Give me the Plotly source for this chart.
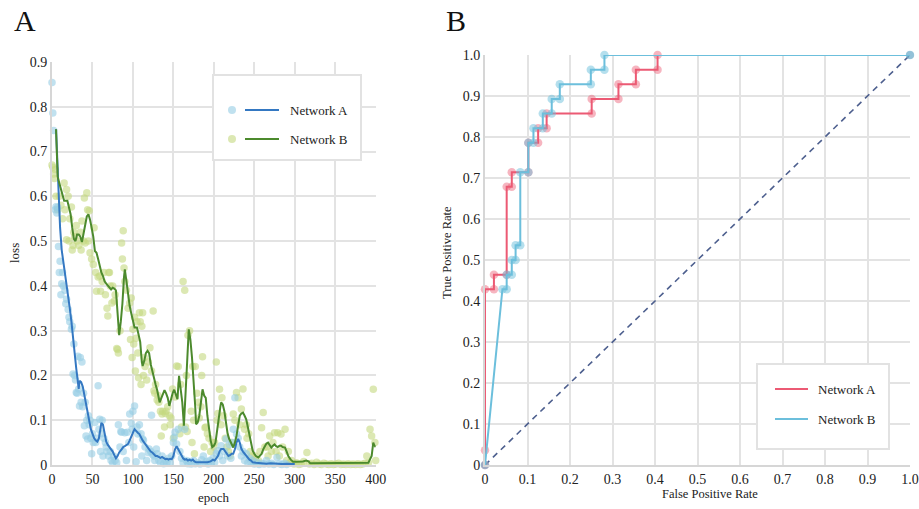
import plotly.graph_objects as go

# ---------------- Panel A data: training loss ----------------
net_a_points = [
    (0, 0.854), (1, 0.786), (2, 0.747), (4, 0.57), (5, 0.577), (6, 0.563), (7, 0.575), (8, 0.488),
    (9, 0.43), (10, 0.455), (11, 0.38), (12, 0.405), (13, 0.43), (14, 0.40), (16, 0.39), (17, 0.36),
    (18, 0.37), (20, 0.347), (21, 0.33), (22, 0.32), (24, 0.303), (25, 0.31), (26, 0.203), (27, 0.27),
    (28, 0.20), (29, 0.19), (30, 0.162), (31, 0.16), (32, 0.243), (33, 0.17), (34, 0.132), (35, 0.24),
    (36, 0.14), (37, 0.23), (38, 0.13), (39, 0.16), (40, 0.0875), (41, 0.14), (42, 0.065), (43, 0.10),
    (44, 0.058), (45, 0.11), (46, 0.09), (47, 0.10), (48, 0.06), (49, 0.025), (50, 0.07), (51, 0.05),
    (53, 0.095), (54, 0.05), (55, 0.06), (57, 0.177), (58, 0.08), (59, 0.102), (60, 0.03), (61, 0.07),
    (62, 0.10), (63, 0.02), (64, 0.06), (66, 0.05), (67, 0.04), (68, 0.03), (70, 0.02), (72, 0.03),
    (73, 0.01), (75, 0.005), (76, 0.02), (78, 0.01), (80, 0.005), (82, 0.09), (84, 0.04), (85, 0.075),
    (86, 0.073), (88, 0.03), (90, 0.072), (92, 0.01), (93, 0.073), (95, 0.05), (96, 0.114), (98, 0.093),
    (99, 0.08), (100, 0.12), (101, 0.04), (102, 0.132), (104, 0.007), (105, 0.085), (106, 0.069),
    (108, 0.09), (110, 0.07), (111, 0.02), (112, 0.058), (113, 0.055), (115, 0.04), (117, 0.01),
    (119, 0.028), (120, 0.036), (122, 0.03), (123, 0.111), (124, 0.024), (126, 0.02), (127, 0.01),
    (129, 0.036), (130, 0.025), (132, 0.01), (134, 0.005), (136, 0.02), (138, 0.003), (140, 0.01),
    (142, 0.005), (144, 0.015), (146, 0.005), (148, 0.02), (150, 0.05), (151, 0.062), (152, 0.073),
    (154, 0.047), (156, 0.08), (158, 0.03), (160, 0.015), (162, 0.005), (164, 0.08), (166, 0.01),
    (168, 0.003), (170, 0.008), (172, 0.002), (175, 0.01), (177, 0.003), (180, 0.005), (183, 0.002),
    (185, 0.012), (187, 0.02), (189, 0.004), (191, 0.008), (193, 0.002), (195, 0.01), (197, 0.004),
    (199, 0.015), (201, 0.006), (203, 0.025), (205, 0.032), (207, 0.02), (209, 0.043), (211, 0.01),
    (213, 0.03), (215, 0.058), (217, 0.02), (219, 0.045), (221, 0.015), (223, 0.05), (224, 0.08),
    (226, 0.15), (228, 0.069), (230, 0.06), (232, 0.04), (234, 0.02), (236, 0.03), (238, 0.01),
    (240, 0.025), (242, 0.005), (244, 0.015), (246, 0.004), (248, 0.01), (250, 0.002), (253, 0.006),
    (256, 0.001), (259, 0.004), (262, 0.002), (265, 0.01), (268, 0.002), (271, 0.004), (274, 0.001),
    (278, 0.017), (281, 0.003), (284, 0.001), (287, 0.004), (290, 0.001),
]

net_b_points = [
    (0, 0.67), (1, 0.665), (2, 0.65), (3, 0.64), (4, 0.66), (5, 0.60), (7, 0.57), (9, 0.60),
    (11, 0.58), (13, 0.55), (15, 0.63), (16, 0.57), (18, 0.615), (18, 0.503), (20, 0.60), (21, 0.50),
    (22, 0.55), (24, 0.576), (25, 0.48), (26, 0.49), (27, 0.52), (28, 0.51), (30, 0.535), (31, 0.50),
    (33, 0.49), (35, 0.52), (36, 0.48), (37, 0.545), (39, 0.50), (40, 0.596), (41, 0.496), (43, 0.608),
    (44, 0.57), (45, 0.50), (46, 0.568), (47, 0.474), (49, 0.46), (51, 0.448), (52, 0.53), (54, 0.43),
    (55, 0.388), (57, 0.42), (59, 0.422), (60, 0.388), (62, 0.41), (64, 0.43), (66, 0.38), (68, 0.35),
    (69, 0.333), (70, 0.43), (71, 0.43), (72, 0.40), (74, 0.362), (75, 0.40), (77, 0.366), (78, 0.38),
    (80, 0.26), (81, 0.258), (82, 0.25), (84, 0.30), (86, 0.496), (87, 0.46), (88, 0.523), (89, 0.44),
    (90, 0.41), (92, 0.39), (94, 0.35), (96, 0.362), (97, 0.28), (98, 0.373), (99, 0.24), (100, 0.303),
    (101, 0.27), (102, 0.33), (103, 0.21), (104, 0.283), (105, 0.32), (106, 0.25), (107, 0.195),
    (108, 0.34), (109, 0.32), (110, 0.18), (111, 0.31), (112, 0.34), (113, 0.20), (114, 0.24),
    (115, 0.22), (117, 0.19), (119, 0.23), (121, 0.262), (123, 0.21), (125, 0.344), (126, 0.166),
    (127, 0.16), (128, 0.18), (130, 0.145), (131, 0.155), (132, 0.14), (134, 0.12), (135, 0.065),
    (136, 0.114), (137, 0.12), (139, 0.085), (140, 0.115), (141, 0.12), (143, 0.13), (145, 0.11),
    (146, 0.09), (147, 0.105), (149, 0.17), (150, 0.06), (152, 0.152), (154, 0.221), (156, 0.22),
    (158, 0.07), (159, 0.18), (160, 0.085), (162, 0.41), (164, 0.39), (165, 0.085), (166, 0.20),
    (167, 0.075), (168, 0.29), (170, 0.30), (172, 0.12), (173, 0.05), (174, 0.22), (175, 0.10),
    (176, 0.025), (177, 0.22), (179, 0.16), (181, 0.14), (182, 0.105), (184, 0.13), (185, 0.20),
    (186, 0.242), (188, 0.04), (189, 0.083), (190, 0.085), (192, 0.07), (194, 0.06), (196, 0.03),
    (198, 0.05), (200, 0.04), (201, 0.05), (203, 0.23), (204, 0.10), (205, 0.115), (207, 0.169),
    (209, 0.09), (210, 0.15), (212, 0.11), (214, 0.06), (216, 0.04), (218, 0.03), (220, 0.02),
    (222, 0.05), (224, 0.114), (226, 0.10), (228, 0.162), (230, 0.15), (232, 0.09), (234, 0.125),
    (236, 0.17), (238, 0.08), (240, 0.09), (241, 0.06), (243, 0.07), (245, 0.03), (247, 0.02),
    (249, 0.01), (251, 0.02), (253, 0.005), (255, 0.01), (257, 0.03), (259, 0.083), (261, 0.117),
    (263, 0.04), (265, 0.04), (267, 0.02), (269, 0.065), (271, 0.03), (273, 0.05), (275, 0.072),
    (277, 0.03), (279, 0.072), (281, 0.02), (283, 0.069), (285, 0.04), (288, 0.08), (290, 0.01),
    (292, 0.03), (294, 0.005), (296, 0.01), (299, 0.002), (302, 0.005), (305, 0.001), (308, 0.003),
    (311, 0.008), (315, 0.028), (318, 0.002), (321, 0.004), (324, 0.001), (327, 0.006), (330, 0.002),
    (333, 0.001), (336, 0.004), (339, 0.002), (342, 0.001), (345, 0.003), (348, 0.001), (351, 0.002),
    (354, 0.004), (357, 0.001), (360, 0.002), (363, 0.001), (366, 0.003), (369, 0.001), (372, 0.002),
    (375, 0.001), (378, 0.003), (381, 0.001), (384, 0.002), (387, 0.004), (389, 0.02), (391, 0.005),
    (393, 0.08), (395, 0.065), (397, 0.169), (399, 0.05), (400, 0.01),
]

net_a_curve = [
    (5, 0.75), (6, 0.70), (7, 0.64), (8, 0.60), (10, 0.53), (12, 0.48), (14, 0.455), (16, 0.43),
    (18, 0.41), (20, 0.38), (22, 0.35), (24, 0.32), (26, 0.29), (28, 0.25), (30, 0.215), (32, 0.184),
    (33, 0.17), (34, 0.188), (36, 0.185), (38, 0.175), (40, 0.155), (42, 0.132), (44, 0.115),
    (46, 0.095), (48, 0.08), (50, 0.07), (52, 0.06), (54, 0.055), (56, 0.052), (58, 0.06), (60, 0.085),
    (61, 0.094), (63, 0.09), (65, 0.07), (67, 0.052), (69, 0.045), (71, 0.04), (73, 0.035), (75, 0.03),
    (77, 0.022), (79, 0.015), (81, 0.02), (83, 0.028), (86, 0.035), (88, 0.04), (90, 0.042),
    (92, 0.045), (94, 0.047), (96, 0.055), (98, 0.065), (100, 0.072), (102, 0.08), (104, 0.075),
    (106, 0.072), (108, 0.069), (110, 0.06), (112, 0.055), (114, 0.05), (116, 0.045), (118, 0.04),
    (120, 0.035), (122, 0.03), (124, 0.028), (126, 0.024), (128, 0.02), (130, 0.02), (132, 0.017),
    (134, 0.016), (136, 0.018), (138, 0.015), (140, 0.013), (142, 0.014), (144, 0.012), (146, 0.014),
    (148, 0.013), (150, 0.02), (152, 0.035), (154, 0.042), (156, 0.035), (158, 0.028), (160, 0.02),
    (162, 0.015), (164, 0.012), (166, 0.013), (168, 0.01), (170, 0.012), (172, 0.01), (174, 0.012),
    (176, 0.008), (178, 0.006), (180, 0.006), (184, 0.006), (188, 0.005), (192, 0.006), (196, 0.008),
    (199, 0.012), (201, 0.01), (203, 0.015), (205, 0.02), (207, 0.03), (209, 0.036), (212, 0.036),
    (214, 0.03), (216, 0.025), (218, 0.02), (220, 0.022), (222, 0.025), (224, 0.025), (226, 0.035),
    (228, 0.05), (230, 0.058), (232, 0.05), (234, 0.036), (236, 0.03), (238, 0.025), (240, 0.022),
    (242, 0.017), (244, 0.012), (246, 0.01), (248, 0.006), (252, 0.005), (256, 0.004), (260, 0.004),
    (265, 0.003), (270, 0.004), (275, 0.003), (280, 0.003), (285, 0.002), (290, 0.003), (295, 0.002),
    (300, 0.002),
]

net_b_curve = [
    (5, 0.75), (6, 0.70), (7, 0.644), (9, 0.63), (11, 0.615), (13, 0.605), (15, 0.59), (17, 0.59),
    (19, 0.59), (21, 0.575), (23, 0.56), (25, 0.53), (27, 0.505), (29, 0.50), (31, 0.515), (33, 0.515),
    (35, 0.51), (37, 0.498), (39, 0.52), (41, 0.54), (43, 0.555), (45, 0.56), (47, 0.548), (49, 0.53),
    (51, 0.51), (53, 0.478), (55, 0.474), (57, 0.46), (59, 0.444), (61, 0.43), (63, 0.422), (65, 0.41),
    (67, 0.405), (69, 0.40), (71, 0.395), (73, 0.392), (75, 0.396), (77, 0.394), (79, 0.39),
    (81, 0.345), (83, 0.29), (85, 0.32), (87, 0.36), (89, 0.42), (90, 0.437), (92, 0.41), (94, 0.38),
    (96, 0.355), (98, 0.338), (100, 0.32), (102, 0.307), (105, 0.307), (107, 0.29), (109, 0.275),
    (111, 0.23), (112, 0.221), (114, 0.232), (116, 0.25), (118, 0.255), (120, 0.25), (122, 0.225),
    (124, 0.206), (126, 0.195), (128, 0.18), (130, 0.167), (133, 0.14), (135, 0.148), (137, 0.156),
    (139, 0.167), (141, 0.16), (143, 0.15), (145, 0.132), (147, 0.148), (149, 0.16), (151, 0.168),
    (153, 0.155), (155, 0.147), (157, 0.199), (159, 0.175), (161, 0.14), (163, 0.088), (165, 0.15),
    (167, 0.23), (169, 0.303), (171, 0.28), (173, 0.24), (175, 0.19), (177, 0.13), (178, 0.091),
    (180, 0.095), (182, 0.11), (184, 0.14), (186, 0.169), (188, 0.155), (190, 0.15), (192, 0.11),
    (194, 0.08), (196, 0.055), (198, 0.04), (200, 0.043), (202, 0.05), (204, 0.08), (206, 0.105),
    (208, 0.13), (209, 0.14), (211, 0.135), (213, 0.12), (215, 0.088), (217, 0.07), (219, 0.058),
    (221, 0.05), (223, 0.042), (224, 0.039), (226, 0.05), (228, 0.065), (230, 0.088), (232, 0.11),
    (234, 0.115), (236, 0.117), (238, 0.11), (240, 0.102), (242, 0.085), (244, 0.065), (246, 0.05),
    (248, 0.032), (250, 0.025), (252, 0.02), (255, 0.017), (257, 0.02), (259, 0.025), (261, 0.035),
    (263, 0.043), (265, 0.048), (267, 0.05), (269, 0.045), (271, 0.039), (273, 0.043), (275, 0.046),
    (277, 0.042), (279, 0.04), (281, 0.043), (283, 0.043), (285, 0.04), (288, 0.039), (290, 0.03),
    (292, 0.02), (295, 0.012), (298, 0.007), (302, 0.007), (306, 0.007), (310, 0.008), (314, 0.01),
    (317, 0.008), (319, 0.004), (325, 0.004), (330, 0.004), (340, 0.004), (350, 0.004), (360, 0.004),
    (370, 0.004), (380, 0.004), (388, 0.004), (391, 0.005), (393, 0.013), (395, 0.02), (397, 0.05),
    (398, 0.045), (400, 0.04),
]

# ---------------- Panel B data: ROC curves ----------------
roc_a_fpr = [0, 0, 0, 0.021, 0.021, 0.051, 0.051, 0.063, 0.063, 0.102, 0.102, 0.125, 0.125,
             0.145, 0.145, 0.251, 0.251, 0.314, 0.314, 0.355, 0.355, 0.406, 0.406]
roc_a_tpr = [0, 0.0357, 0.4286, 0.4286, 0.4643, 0.4643, 0.6786, 0.6786, 0.7143, 0.7143, 0.7857,
             0.7857, 0.8214, 0.8214, 0.8571, 0.8571, 0.8929, 0.8929, 0.9286, 0.9286, 0.9643,
             0.9643, 1.0]
roc_b_fpr = [0, 0.041, 0.051, 0.051, 0.063, 0.063, 0.072, 0.072, 0.083, 0.083, 0.102, 0.102,
             0.114, 0.114, 0.136, 0.136, 0.157, 0.157, 0.176, 0.176, 0.249, 0.249, 0.281, 0.281, 1.0]
roc_b_tpr = [0, 0.4286, 0.4286, 0.4643, 0.4643, 0.5, 0.5, 0.5357, 0.5357, 0.7143, 0.7143, 0.7857,
             0.7857, 0.8214, 0.8214, 0.8571, 0.8571, 0.8929, 0.8929, 0.9286, 0.9286, 0.9643,
             0.9643, 1.0, 1.0]
chance_x = [0, 1]
chance_y = [0, 1]

epoch_ticks = [0, 50, 100, 150, 200, 250, 300, 350, 400]
loss_ticks = [0, 0.1, 0.2, 0.3, 0.4, 0.5, 0.6, 0.7, 0.8, 0.9]
loss_labels = ["0", "0.1", "0.2", "0.3", "0.4", "0.5", "0.6", "0.7", "0.8", "0.9"]
rate_ticks = [0, 0.1, 0.2, 0.3, 0.4, 0.5, 0.6, 0.7, 0.8, 0.9, 1.0]
rate_labels = ["0", "0.1", "0.2", "0.3", "0.4", "0.5", "0.6", "0.7", "0.8", "0.9", "1.0"]

# ---------------- styling ----------------
FONT = "Liberation Serif, Times New Roman, serif"
COL_A_PT = "rgba(150,205,228,0.6)"
COL_A_LN = "#3478c2"
COL_B_PT = "rgba(196,217,128,0.6)"
COL_B_LN = "#4c8a2d"
COL_ROC_A = "#ec5a74"
COL_ROC_A_PT = "rgba(236,90,116,0.45)"
COL_ROC_B = "#6cbfdc"
COL_ROC_B_PT = "rgba(108,191,220,0.5)"
GRID = "#e3e3e3"

W, H = 919, 509
ML, MR, MT, MB = 52, 9, 55, 44
PW, PH = W - ML - MR, H - MT - MB


def px_x(p):
    return (p - ML) / PW


def px_y(p):
    return (H - MB - p) / PH


def unzip(pairs):
    return [p[0] for p in pairs], [p[1] for p in pairs]


fig = go.Figure()

ax, ay = unzip(net_a_points)
bx, by = unzip(net_b_points)
acx, acy = unzip(net_a_curve)
bcx, bcy = unzip(net_b_curve)

fig.add_trace(go.Scatter(x=bx, y=by, mode="markers", name="Network B",
                         marker=dict(size=7.5, color=COL_B_PT, line=dict(width=0)),
                         cliponaxis=False, showlegend=False, xaxis="x", yaxis="y"))
fig.add_trace(go.Scatter(x=ax, y=ay, mode="markers", name="Network A",
                         marker=dict(size=7.5, color=COL_A_PT, line=dict(width=0)),
                         cliponaxis=False, showlegend=False, xaxis="x", yaxis="y"))
fig.add_trace(go.Scatter(x=acx, y=acy, mode="lines", name="Network A",
                         line=dict(color=COL_A_LN, width=2), showlegend=False,
                         xaxis="x", yaxis="y"))
fig.add_trace(go.Scatter(x=bcx, y=bcy, mode="lines", name="Network B",
                         line=dict(color=COL_B_LN, width=2), showlegend=False,
                         xaxis="x", yaxis="y"))

# ROC panel
fig.add_trace(go.Scatter(x=chance_x, y=chance_y, mode="lines+markers", name="chance",
                         line=dict(color="#4d5f8e", width=1.6, dash="6px,5px"),
                         marker=dict(size=8, color="rgba(120,135,170,0.5)"),
                         cliponaxis=False, showlegend=False, xaxis="x2", yaxis="y2"))
fig.add_trace(go.Scatter(x=roc_a_fpr, y=roc_a_tpr, mode="lines+markers", name="Network A",
                         line=dict(color=COL_ROC_A, width=2),
                         marker=dict(size=8.5, color=COL_ROC_A_PT),
                         cliponaxis=False, showlegend=False, xaxis="x2", yaxis="y2"))
fig.add_trace(go.Scatter(x=roc_b_fpr, y=roc_b_tpr, mode="lines+markers", name="Network B",
                         line=dict(color=COL_ROC_B, width=2),
                         marker=dict(size=8.5, color=COL_ROC_B_PT),
                         cliponaxis=False, showlegend=False, xaxis="x2", yaxis="y2"))

axis_common = dict(showgrid=True, gridcolor=GRID, gridwidth=1.5, zeroline=False,
                   showline=True, linecolor="#d6d6d6", linewidth=2, ticks="",
                   automargin=False,
                   tickfont=dict(family=FONT, size=14, color="#222"))

fig.update_layout(
    width=W, height=H, autosize=False,
    margin=dict(l=ML, r=MR, t=MT, b=MB, autoexpand=False),
    paper_bgcolor="white", plot_bgcolor="white",
    font=dict(family=FONT, size=13, color="#222"),
    xaxis=dict(domain=[0, px_x(375.7)], range=[0, 400], tickvals=epoch_ticks, **axis_common),
    yaxis=dict(domain=[0, px_y(62)], range=[0, 0.9], tickvals=loss_ticks, ticktext=loss_labels,
               **axis_common),
    xaxis2=dict(domain=[px_x(485), 1], range=[0, 1], tickvals=rate_ticks, ticktext=rate_labels,
                anchor="y2", **axis_common),
    yaxis2=dict(domain=[0, 1], range=[0, 1], tickvals=rate_ticks, ticktext=rate_labels,
                anchor="x2", **axis_common),
    showlegend=False,
)

ann = []
ann.append(dict(text="A", x=px_x(25), y=px_y(21), xref="paper", yref="paper", showarrow=False,
                font=dict(family=FONT, size=30, color="#111"), xanchor="center", yanchor="middle"))
ann.append(dict(text="B", x=px_x(456), y=px_y(21), xref="paper", yref="paper", showarrow=False,
                font=dict(family=FONT, size=30, color="#111"), xanchor="center", yanchor="middle"))
ann.append(dict(text="epoch", x=px_x(214), y=px_y(497), xref="paper", yref="paper", showarrow=False,
                font=dict(family=FONT, size=13), xanchor="center", yanchor="middle"))
ann.append(dict(text="loss", x=px_x(14), y=px_y(253), xref="paper", yref="paper", showarrow=False,
                textangle=-90, font=dict(family=FONT, size=13), xanchor="center", yanchor="middle"))
ann.append(dict(text="False Positive Rate", x=px_x(710), y=px_y(494), xref="paper", yref="paper",
                showarrow=False, font=dict(family=FONT, size=12.5), xanchor="center",
                yanchor="middle"))
ann.append(dict(text="True Positive Rate", x=px_x(447), y=px_y(253), xref="paper", yref="paper",
                showarrow=False, textangle=-90, font=dict(family=FONT, size=12.5),
                xanchor="center", yanchor="middle"))

shapes = []
# Legend A (custom drawn)
shapes.append(dict(type="rect", xref="paper", yref="paper", x0=px_x(213), x1=px_x(361),
                   y0=px_y(160), y1=px_y(75), line=dict(color="#e2e2e2", width=2),
                   fillcolor="white", layer="above"))
for yy, pt_col, ln_col, label in [(110, COL_A_PT, COL_A_LN, "Network A"),
                                  (139, COL_B_PT, COL_B_LN, "Network B")]:
    shapes.append(dict(type="circle", xref="paper", yref="paper", xsizemode="pixel",
                       ysizemode="pixel", xanchor=px_x(232), yanchor=px_y(yy),
                       x0=-4, x1=4, y0=-4, y1=4, fillcolor=pt_col, line=dict(width=0),
                       layer="above"))
    shapes.append(dict(type="line", xref="paper", yref="paper", x0=px_x(245), x1=px_x(279),
                       y0=px_y(yy), y1=px_y(yy), line=dict(color=ln_col, width=2), layer="above"))
    ann.append(dict(text=label, x=px_x(288), y=px_y(yy), xref="paper", yref="paper",
                    showarrow=False, xanchor="left", yanchor="middle",
                    font=dict(family=FONT, size=13, color="#222")))

# Legend B (custom drawn)
shapes.append(dict(type="rect", xref="paper", yref="paper", x0=px_x(757), x1=px_x(889),
                   y0=px_y(449), y1=px_y(364), line=dict(color="#e2e2e2", width=2),
                   fillcolor="white", layer="above"))
for yy, ln_col, label in [(389, COL_ROC_A, "Network A"), (419, COL_ROC_B, "Network B")]:
    shapes.append(dict(type="line", xref="paper", yref="paper", x0=px_x(775), x1=px_x(808),
                       y0=px_y(yy), y1=px_y(yy), line=dict(color=ln_col, width=2), layer="above"))
    ann.append(dict(text=label, x=px_x(816), y=px_y(yy), xref="paper", yref="paper",
                    showarrow=False, xanchor="left", yanchor="middle",
                    font=dict(family=FONT, size=13, color="#222")))

fig.update_layout(annotations=ann, shapes=shapes)

fig.write_html("out.html", config={"displayModeBar": False},
               post_script="document.body.style.margin='0px';document.body.style.overflow='hidden';")
